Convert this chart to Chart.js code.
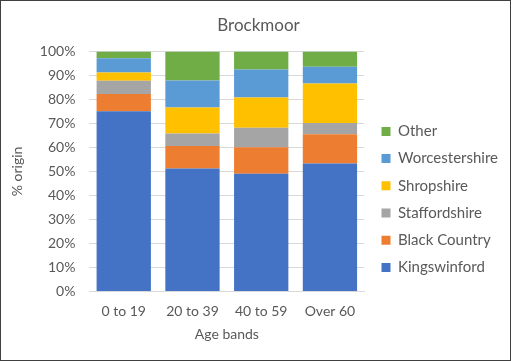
<!DOCTYPE html>
<html><head><meta charset="utf-8">
<script src="https://cdn.jsdelivr.net/npm/chart.js@4"></script>
<style>
html,body{margin:0;padding:0;background:#fff;}
#wrap{position:relative;width:511px;height:361px;box-sizing:border-box;border:1px solid #404040;}
canvas{display:block;}
</style></head><body>
<div id="wrap"><canvas id="c" width="509" height="359"></canvas></div>
<script>
const categories = ["0 to 19", "20 to 39", "40 to 59", "Over 60"];
const kingswinford = [75.1, 51.2, 49.0, 53.3];
const blackCountry = [7.2, 9.4, 11.1, 12.2];
const staffordshire = [5.5, 5.2, 8.1, 4.7];
const shropshire = [3.4, 10.8, 12.6, 16.4];
const worcestershire = [5.9, 11.3, 11.7, 7.0];
const other = [2.9, 12.1, 7.5, 6.4];
const yTicks = ["0%","10%","20%","30%","40%","50%","60%","70%","80%","90%","100%"];

const font = "Lato, 'Open Sans', sans-serif";
const txt = "#595959";
Chart.defaults.font.family = font;
Chart.defaults.color = txt;

const LEGEND_GAP = 5;
const legendShift = {
  id: 'legendShift',
  beforeLayout(chart) {
    const lg = chart.legend;
    if (lg && !lg._patched) {
      const f = lg.fit;
      lg.fit = function () { f.call(this); this.width += LEGEND_GAP; };
      lg._patched = true;
    }
  },
  afterLayout(chart) {
    if (chart.legend) chart.legend.left += LEGEND_GAP;
  }
};

const ds = (label, data, color) => ({label, data, backgroundColor: color, borderWidth: 0, barPercentage: 0.79, categoryPercentage: 1.0});

new Chart(document.getElementById('c'), {
  type: 'bar',
  data: {
    labels: categories,
    datasets: [
      ds("Kingswinford", kingswinford, "#4472C4"),
      ds("Black Country", blackCountry, "#ED7D31"),
      ds("Staffordshire", staffordshire, "#A5A5A5"),
      ds("Shropshire", shropshire, "#FFC000"),
      ds("Worcestershire", worcestershire, "#5B9BD5"),
      ds("Other", other, "#70AD47")
    ]
  },
  plugins: [legendShift],
  options: {
    responsive: false,
    animation: false,
    layout: {padding: {left: 8, right: 2, top: 14, bottom: 17}},
    plugins: {
      title: {display: true, text: "Brockmoor", color: txt, font: {size: 17, weight: 'normal'}, padding: {top: 0, bottom: 16}},
      legend: {
        position: 'right',
        reverse: true,
        maxWidth: 300,
        title: {display: true, text: ' ', font: {size: 4}, padding: {top: 36, bottom: 0}},
        labels: {boxWidth: 9, boxHeight: 9, padding: 12.2, color: txt, font: {size: 15}}
      },
      tooltip: {enabled: false}
    },
    scales: {
      x: {
        stacked: true,
        grid: {display: false},
        border: {color: "#d9d9d9"},
        ticks: {color: txt, font: {size: 14}, padding: 4},
        title: {display: true, text: "Age bands", color: txt, font: {size: 14}, padding: {top: 2, bottom: 0}}
      },
      y: {
        stacked: true,
        min: 0, max: 100,
        grid: {color: "#d9d9d9", drawTicks: false},
        border: {display: false},
        ticks: {stepSize: 10, color: txt, font: {size: 14}, padding: 14, callback: (v, i) => yTicks[i]},
        title: {display: true, text: "% origin", color: txt, font: {size: 14}, padding: {top: 0, bottom: 0}}
      }
    }
  }
});
</script></body></html>
